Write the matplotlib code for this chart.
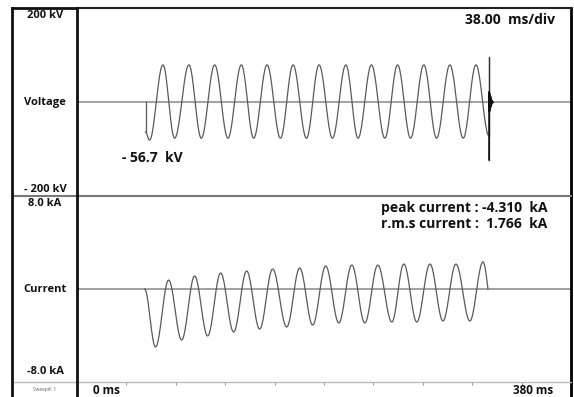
import matplotlib
matplotlib.use("Agg")
import matplotlib.pyplot as plt
import numpy as np

# ---- values ----
t_span_ms = 380.0
v_range_kv = 200.0
i_range_ka = 8.0

# voltage trace (ms, kV)
v_on_ms, v_on_kv = 52.7, -64.0
v_trough_ms = [55.8, 75.1, 95.6, 116.1, 135.9, 156.5, 176.5, 196.5, 216.2, 236.8, 256.6, 276.6, 297.1]
v_trough_kv = [-81, -77, -77, -77, -77, -77, -77, -77, -77, -77, -77, -77, -77]
v_peak_ms = [66.1, 86.1, 105.9, 126.4, 146.2, 166.2, 186.2, 206.8, 226.5, 246.6, 266.8, 286.8, 306.9]
v_peak_kv = [79, 79, 79, 79, 79, 79, 79, 79, 79, 79, 79, 79, 79]
v_off_ms, v_off_kv = 316.9, -72.0
v_spike_kv = [96, -123]
v_ring_ms = [317.1, 317.35, 317.6, 317.85, 318.1, 318.35, 318.6, 318.9, 319.2, 319.6, 320.0]
v_ring_kv = [22, -20, 17, -15, 12, -10, 7, -5, 3, -2, 0]

# current trace (ms, kA)
i_on_ms = 52.0
i_trough_ms = [60.4, 80.5, 100.5, 120.5, 140.5, 161.3, 181.3, 201.4, 221.4, 242.2, 261.4, 281.5, 302.2]
i_trough_ka = [-4.99, -4.39, -4.04, -3.70, -3.44, -3.27, -3.10, -2.92, -2.92, -2.84, -2.84, -2.75, -2.75]
i_peak_ms = [70.5, 90.5, 110.5, 130.5, 150.5, 171.3, 191.3, 211.4, 231.4, 251.4, 271.5, 291.5, 312.3]
i_peak_ka = [0.77, 1.12, 1.38, 1.55, 1.72, 1.81, 1.98, 2.06, 2.06, 2.15, 2.15, 2.15, 2.32]
i_off_ms = 316.1

W, H = 574, 397
trace_col = "#5a5a5a"
zero_col = "#9a9a9a"
font = ["Open Sans", "DejaVu Sans"]


def rect(x0, y0, x1, y1):
    return [x0 / W, 1 - y1 / H, (x1 - x0) / W, (y1 - y0) / H]


def halfcos(ts, vs, n=24):
    # smooth scope-like curve through the extremes
    tt, vv = [], []
    for t0, t1, a, b in zip(ts[:-1], ts[1:], vs[:-1], vs[1:]):
        s = np.linspace(0, 1, n)
        tt.append(t0 + (t1 - t0) * s)
        vv.append(a + (b - a) * (1 - np.cos(np.pi * s)) / 2)
    return np.concatenate(tt), np.concatenate(vv)


def merge(t_a, v_a, t_b, v_b):
    pts = sorted(zip(t_a + t_b, v_a + v_b))
    return [p[0] for p in pts], [p[1] for p in pts]


fig = plt.figure(figsize=(W / 100, H / 100), dpi=100)

# plot panels
ax_v = fig.add_axes(rect(77, 8, 571, 196))
ax_i = fig.add_axes(rect(77, 196, 571, 382))
ax_s = fig.add_axes(rect(77, 382, 571, H))
for ax in (ax_v, ax_i, ax_s):
    ax.set_xlim(0, t_span_ms)
    ax.set_xticks([])
    ax.set_yticks([])
    ax.spines["left"].set_visible(False)
    ax.spines["top"].set_linewidth(1.5)
    ax.spines["right"].set_linewidth(2.0)
    ax.spines["bottom"].set_visible(False)
ax_v.spines["top"].set_color("#222222")
ax_i.spines["top"].set_color("#777777")
ax_s.spines["top"].set_color("#bbbbbb")
ax_s.spines["top"].set_linewidth(1.0)

# label column (drawn on top so its right edge stays black)
ax_lab = fig.add_axes(rect(12, 8, 77, H), zorder=5)
ax_lab.patch.set_alpha(0)
ax_lab.set_xlim(0, 1)
ax_lab.set_ylim(H, 8)
ax_lab.set_xticks([])
ax_lab.set_yticks([])
ax_lab.spines["bottom"].set_visible(False)
for side in ["left", "top", "right"]:
    ax_lab.spines[side].set_linewidth(2.0)
    ax_lab.spines[side].set_color("#111111")
ax_lab.axhline(196, color="#777777", lw=1.5)
ax_lab.axhline(382, color="#bbbbbb", lw=1.0)

ax_v.set_ylim(-v_range_kv, v_range_kv)
ax_i.set_ylim(-i_range_ka, i_range_ka)
ax_s.set_ylim(0, 1)

ax_v.axhline(0, color=zero_col, lw=1.3, zorder=1)
ax_i.axhline(0, color=zero_col, lw=1.3, zorder=1)

# voltage waveform
vt, vv = merge(v_trough_ms, v_trough_kv, v_peak_ms, v_peak_kv)
st, sv = halfcos([v_on_ms] + vt + [v_off_ms], [v_on_kv] + vv + [v_off_kv])
rt, rv = halfcos([v_off_ms] + v_ring_ms, [v_spike_kv[1]] + v_ring_kv, n=6)
ax_v.plot([v_on_ms, v_on_ms], [0, v_on_kv], color=trace_col, lw=0.9)
ax_v.plot(st, sv, color=trace_col, lw=0.9)
ax_v.plot([v_off_ms, v_off_ms, v_off_ms], [v_off_kv, v_spike_kv[0], v_spike_kv[1]], color="#333333", lw=0.9)
ax_v.plot(rt, rv, color="#111111", lw=1.2)

# current waveform
it, iv = merge(i_trough_ms, i_trough_ka, i_peak_ms, i_peak_ka)
ct, cv = halfcos([i_on_ms] + it, [0.0] + iv)
s = np.linspace(0, 1, 12)
et = i_peak_ms[-1] + (i_off_ms - i_peak_ms[-1]) * s
ev = i_peak_ka[-1] * np.cos(np.pi / 2 * s)
ax_i.plot(ct, cv, color=trace_col, lw=0.9)
ax_i.plot(et, ev, color=trace_col, lw=0.9)

# division ticks on time strip
ax_s.vlines(np.linspace(0, t_span_ms, 11)[1:-1], 0.8, 1.0, color="#999999", lw=0.8)

# texts
lab_kw = dict(ha="center", va="center", fontsize=8, fontweight="bold", family=font, color="#111111")
cx = 45 / W
fig.text(cx, 1 - 16 / H, "200 kV", **lab_kw)
fig.text(cx, 1 - 103 / H, "Voltage", **lab_kw)
fig.text(cx, 1 - 189 / H, "- 200 kV", **lab_kw)
fig.text(cx, 1 - 204 / H, "8.0 kA", **lab_kw)
fig.text(cx, 1 - 289 / H, "Current", **lab_kw)
fig.text(cx, 1 - 372 / H, "-8.0 kA", **lab_kw)
fig.text(cx, 1 - 390 / H, "Sweep#: 1", ha="center", va="center", fontsize=3.5, family=font, color="#666666")

big_kw = dict(fontsize=10, fontweight="bold", family=font, color="#111111")
fig.text(555 / W, 1 - 20 / H, "38.00  ms/div", ha="right", va="center", **big_kw)
fig.text(122 / W, 1 - 158 / H, "- 56.7  kV", ha="left", va="center", **big_kw)
fig.text(381 / W, 1 - 208 / H, "peak current : -4.310  kA", ha="left", va="center", **big_kw)
fig.text(381 / W, 1 - 224 / H, "r.m.s current :  1.766  kA", ha="left", va="center", **big_kw)
fig.text(93 / W, 1 - 390 / H, "0 ms", ha="left", va="center", fontsize=8.5, fontweight="bold", family=font, color="#111111")
fig.text(553 / W, 1 - 390 / H, "380 ms", ha="right", va="center", fontsize=8.5, fontweight="bold", family=font, color="#111111")

fig.savefig("out.png", dpi=100)
